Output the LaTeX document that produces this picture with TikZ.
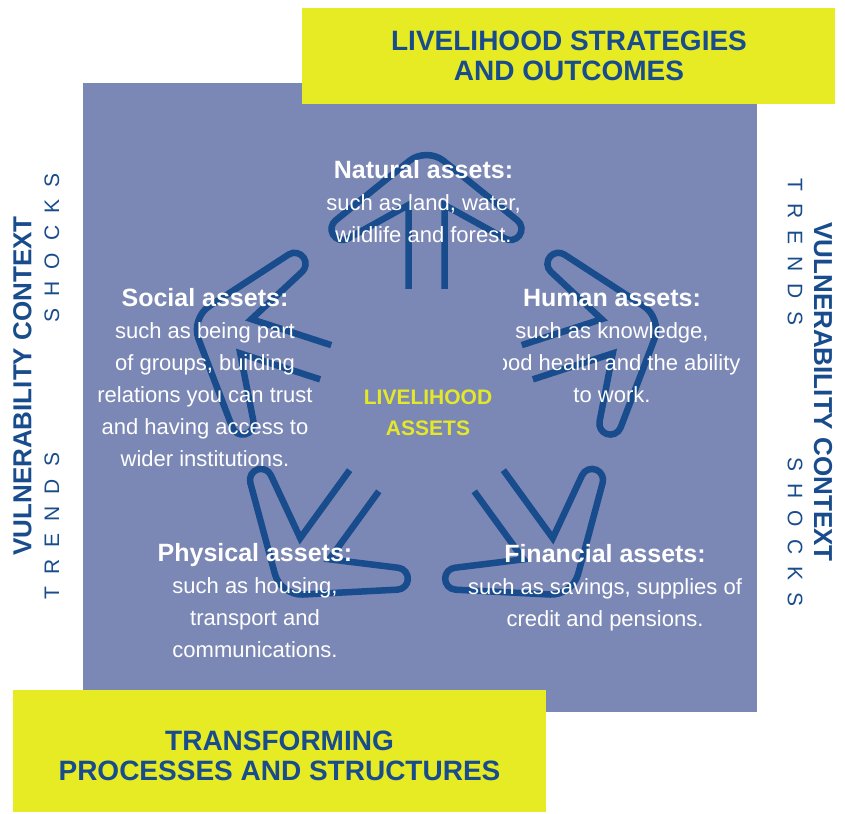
\documentclass[tikz,border=0pt]{standalone}
\usepackage{fontspec}
\setmainfont{Liberation Sans}
\definecolor{bgpurple}{RGB}{123,136,181}
\definecolor{boxyellow}{RGB}{230,235,35}
\definecolor{dblue}{RGB}{24,76,140}
\definecolor{cyellow}{RGB}{228,232,40}
\tikzset{
  arrowline/.style={draw=dblue, line width=6.5pt, line cap=butt, line join=miter},
  assettext/.style={text=white, inner sep=0pt, anchor=base, font=\fontsize{22}{32}\selectfont},
  titletext/.style={text=dblue, inner sep=0pt, anchor=base, font=\fontsize{28}{29.5}\selectfont\bfseries},
  sidebold/.style={text=dblue, inner sep=0pt, font=\fontsize{26}{26}\selectfont\bfseries},
  sidethin/.style={text=dblue, inner sep=0pt, font=\fontsize{21}{21}\selectfont},
}
\newcommand\assetarrow[2]{%
  \draw[arrowline, shift={(426.5,418)}, rotate=#2] (-18,106) coordinate (#1s1) -- (-18,190)
    -- (-78.67,156.38) arc[start angle=-61.0, end angle=-231.04, radius=11]
    -- (-45.47,211.3) [rounded corners=22pt] -- (0,248) coordinate (#1tip) -- (45.47,211.3) [sharp corners]
    -- (90.93,174.57) arc[start angle=51.04, end angle=-119.0, radius=11]
    -- (18,190) -- (18,106) coordinate (#1s2);}
\newcommand\hd[1]{{\fontsize{25}{32}\selectfont\bfseries #1}}
\begin{document}
\begin{tikzpicture}[x=1pt,y=1pt]
\useasboundingbox (0,0) rectangle (845,813);
\fill[white] (0,0) rectangle (845,813);
% main purple square
\fill[bgpurple] (83,101) rectangle (757,730);
% yellow boxes
\fill[boxyellow] (302,709) rectangle (835,805);
\fill[boxyellow] (13,1) rectangle (546,123);
% arrows
\assetarrow{nat}{0}
\assetarrow{hum}{-72}
\assetarrow{fin}{-144}
\assetarrow{phy}{144}
\assetarrow{soc}{72}
% titles
\node[titletext] (top) at (569,762) {\begin{tabular}[t]{@{}c@{}}LIVELIHOOD STRATEGIES\\AND OUTCOMES\end{tabular}};
\node[titletext] (bottom) at (279.5,62) {\begin{tabular}[t]{@{}c@{}}TRANSFORMING\\PROCESSES AND STRUCTURES\end{tabular}};
% centre
\node[inner sep=0pt, anchor=base, text=cyellow, font=\fontsize{21}{31}\selectfont\bfseries] (centre) at (428,408)
  {\begin{tabular}[t]{@{}c@{}}LIVELIHOOD\\ASSETS\end{tabular}};
% asset texts
\node[assettext] (natural) at (423.5,634) {\begin{tabular}[t]{@{}c@{}}\hd{Natural assets:}\\such as land, water,\\wildlife and forest.\end{tabular}};
\node[assettext] (social) at (205,506) {\begin{tabular}[t]{@{}c@{}}\hd{Social assets:}\\such as being part\\of groups, building\\relations you can trust\\and having access to\\wider institutions.\end{tabular}};
\begin{scope}
\clip (503,0) rectangle (845,813);
\node[assettext] (human) at (612,506) {\begin{tabular}[t]{@{}c@{}}\hd{Human assets:}\\such as knowledge,\\good health and the ability\\to work.\end{tabular}};
\end{scope}
\node[assettext] (physical) at (255,251) {\begin{tabular}[t]{@{}c@{}}\hd{Physical assets:}\\such as housing,\\transport and\\communications.\end{tabular}};
\node[assettext] (financial) at (605,250) {\begin{tabular}[t]{@{}c@{}}\hd{Financial assets:}\\such as savings, supplies of\\credit and pensions.\end{tabular}};
% side texts left
\node[sidebold, rotate=90] (vcl) at (22.5,427) {VULNERABILITY CONTEXT};
\node[sidethin, rotate=90] (trl) at (52,287) {T\hspace{12pt}R\hspace{12pt}E\hspace{12pt}N\hspace{12pt}D\hspace{12pt}S};
\node[sidethin, rotate=90] (shl) at (52,565) {S\hspace{12pt}H\hspace{12pt}O\hspace{12pt}C\hspace{12pt}K\hspace{12pt}S};
% side texts right
\node[sidebold, rotate=-90] (vcr) at (823,421) {VULNERABILITY CONTEXT};
\node[sidethin, rotate=-90] (trr) at (795,561) {T\hspace{12pt}R\hspace{12pt}E\hspace{12pt}N\hspace{12pt}D\hspace{12pt}S};
\node[sidethin, rotate=-90] (shr) at (795,281) {S\hspace{12pt}H\hspace{12pt}O\hspace{12pt}C\hspace{12pt}K\hspace{12pt}S};
\end{tikzpicture}
\end{document}
